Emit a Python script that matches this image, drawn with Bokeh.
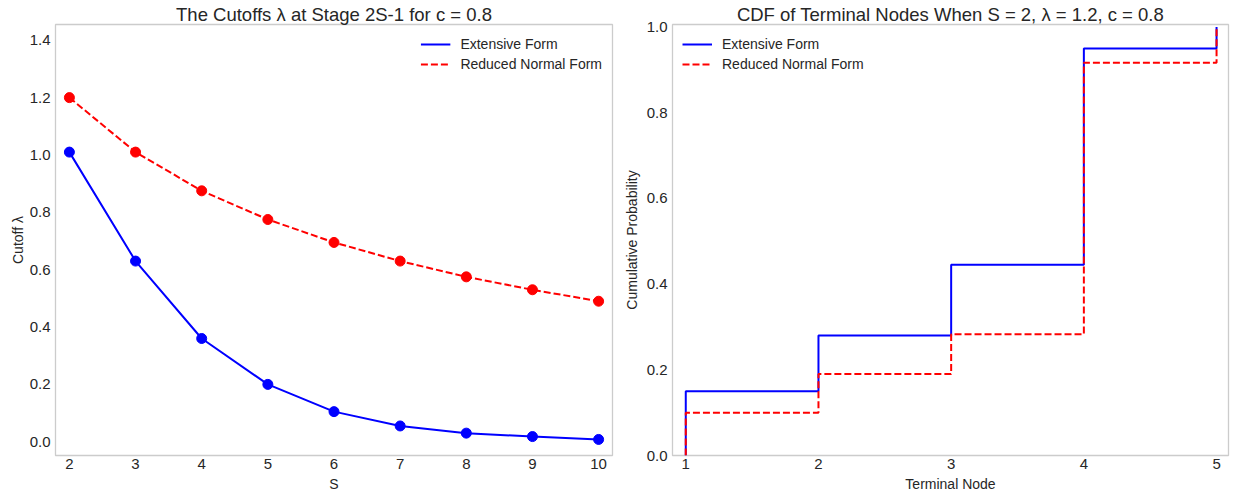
from bokeh.plotting import figure
from bokeh.layouts import row
from bokeh.models import Range1d, Legend, LegendItem, FixedTicker, PrintfTickFormatter
from bokeh.embed import file_html
from bokeh.resources import INLINE

# ---------------- data ----------------
S_values = [2, 3, 4, 5, 6, 7, 8, 9, 10]
extensive_cutoffs = [1.01, 0.63, 0.36, 0.20, 0.105, 0.055, 0.03, 0.018, 0.008]
reduced_cutoffs = [1.2, 1.01, 0.875, 0.775, 0.695, 0.63, 0.575, 0.53, 0.49]

terminal_nodes = [1, 2, 3, 4, 5]
extensive_cdf = [0.15, 0.28, 0.445, 0.95, 1.0]
reduced_cdf = [0.10, 0.19, 0.283, 0.917, 1.0]

left_yticks = [0.0, 0.2, 0.4, 0.6, 0.8, 1.0, 1.2, 1.4]
right_yticks = [0.0, 0.2, 0.4, 0.6, 0.8, 1.0]

FONT = "Liberation Sans"
TXT = "#262626"
BLUE = "#0000ff"
RED = "#ff0000"


def style(p, title_text):
    p.xgrid.visible = False
    p.ygrid.visible = False
    p.outline_line_color = "#cccccc"
    p.outline_line_width = 1.3
    p.background_fill_color = "white"
    p.border_fill_color = "white"
    for ax in (p.xaxis[0], p.yaxis[0]):
        ax.axis_line_color = None
        ax.major_tick_line_color = None
        ax.minor_tick_line_color = None
        ax.major_tick_out = 0
        ax.major_tick_in = 0
        ax.minor_tick_out = 0
        ax.minor_tick_in = 0
        ax.major_label_text_font = FONT
        ax.major_label_text_font_size = "15px"
        ax.major_label_text_color = TXT
        ax.axis_label_text_font = FONT
        ax.axis_label_text_font_size = "14px"
        ax.axis_label_text_font_style = "normal"
        ax.axis_label_text_color = TXT
    p.xaxis[0].major_label_standoff = 3
    p.yaxis[0].major_label_standoff = 5
    p.xaxis[0].axis_label_standoff = 4
    p.yaxis[0].axis_label_standoff = 4
    p.title.text = title_text
    p.title.text_font = FONT
    p.title.text_font_size = "18.5px"
    p.title.text_font_style = "normal"
    p.title.text_color = TXT
    p.title.align = "center"
    p.title.standoff = 0


def make_legend(items, location):
    lg = Legend(items=items, location=location)
    lg.border_line_color = None
    lg.background_fill_alpha = 0
    lg.label_text_font = FONT
    lg.label_text_font_size = "14px"
    lg.label_text_color = TXT
    lg.glyph_width = 30
    lg.glyph_height = 20
    lg.label_height = 20
    lg.label_standoff = 10
    lg.spacing = 0
    lg.padding = 4
    lg.margin = 10
    return lg


# ---------------- left panel ----------------
left = figure(width=620, height=497, output_backend="svg", toolbar_location=None,
              x_range=Range1d(1.79, 10.21), y_range=Range1d(-0.048, 1.455),
              min_border_left=55, min_border_right=8, min_border_top=24, min_border_bottom=42)
style(left, "The Cutoffs λ at Stage 2S-1 for c = 0.8")
left.yaxis[0].axis_label_standoff = 1
left.xaxis[0].axis_label = "S"
left.yaxis[0].axis_label = "Cutoff λ"
left.xaxis[0].ticker = FixedTicker(ticks=S_values)
left.yaxis[0].ticker = FixedTicker(ticks=left_yticks)
left.yaxis[0].formatter = PrintfTickFormatter(format="%.1f")

l_ext = left.line(S_values, extensive_cutoffs, line_color=BLUE, line_width=2)
left.scatter(S_values, extensive_cutoffs, size=10, fill_color=BLUE, line_color=BLUE)
l_red = left.line(S_values, reduced_cutoffs, line_color=RED, line_width=2, line_dash="7 3")
left.scatter(S_values, reduced_cutoffs, size=10, fill_color=RED, line_color=RED)

left.add_layout(make_legend([LegendItem(label="Extensive Form", renderers=[l_ext]),
                             LegendItem(label="Reduced Normal Form", renderers=[l_red])],
                            "top_right"))

# ---------------- right panel ----------------
right = figure(width=613, height=497, output_backend="svg", toolbar_location=None,
               x_range=Range1d(0.9, 5.09), y_range=Range1d(0.0, 1.006),
               min_border_left=52, min_border_right=5, min_border_top=24, min_border_bottom=42)
style(right, "CDF of Terminal Nodes When S = 2, λ = 1.2, c = 0.8")
right.xaxis[0].axis_label = "Terminal Node"
right.yaxis[0].axis_label = "Cumulative Probability"
right.xaxis[0].ticker = FixedTicker(ticks=terminal_nodes)
right.yaxis[0].ticker = FixedTicker(ticks=right_yticks)
right.yaxis[0].formatter = PrintfTickFormatter(format="%.1f")

step_x = [terminal_nodes[0]] + terminal_nodes
r_ext = right.step(step_x, [0.0] + extensive_cdf, mode="after", line_color=BLUE, line_width=2)
r_red = right.step(step_x, [0.0] + reduced_cdf, mode="after", line_color=RED, line_width=2,
                   line_dash="7 3")

right.add_layout(make_legend([LegendItem(label="Extensive Form", renderers=[r_ext]),
                              LegendItem(label="Reduced Normal Form", renderers=[r_red])],
                             "top_left"))

layout = row(left, right)
open("out.html", "w").write(file_html(layout, INLINE))
